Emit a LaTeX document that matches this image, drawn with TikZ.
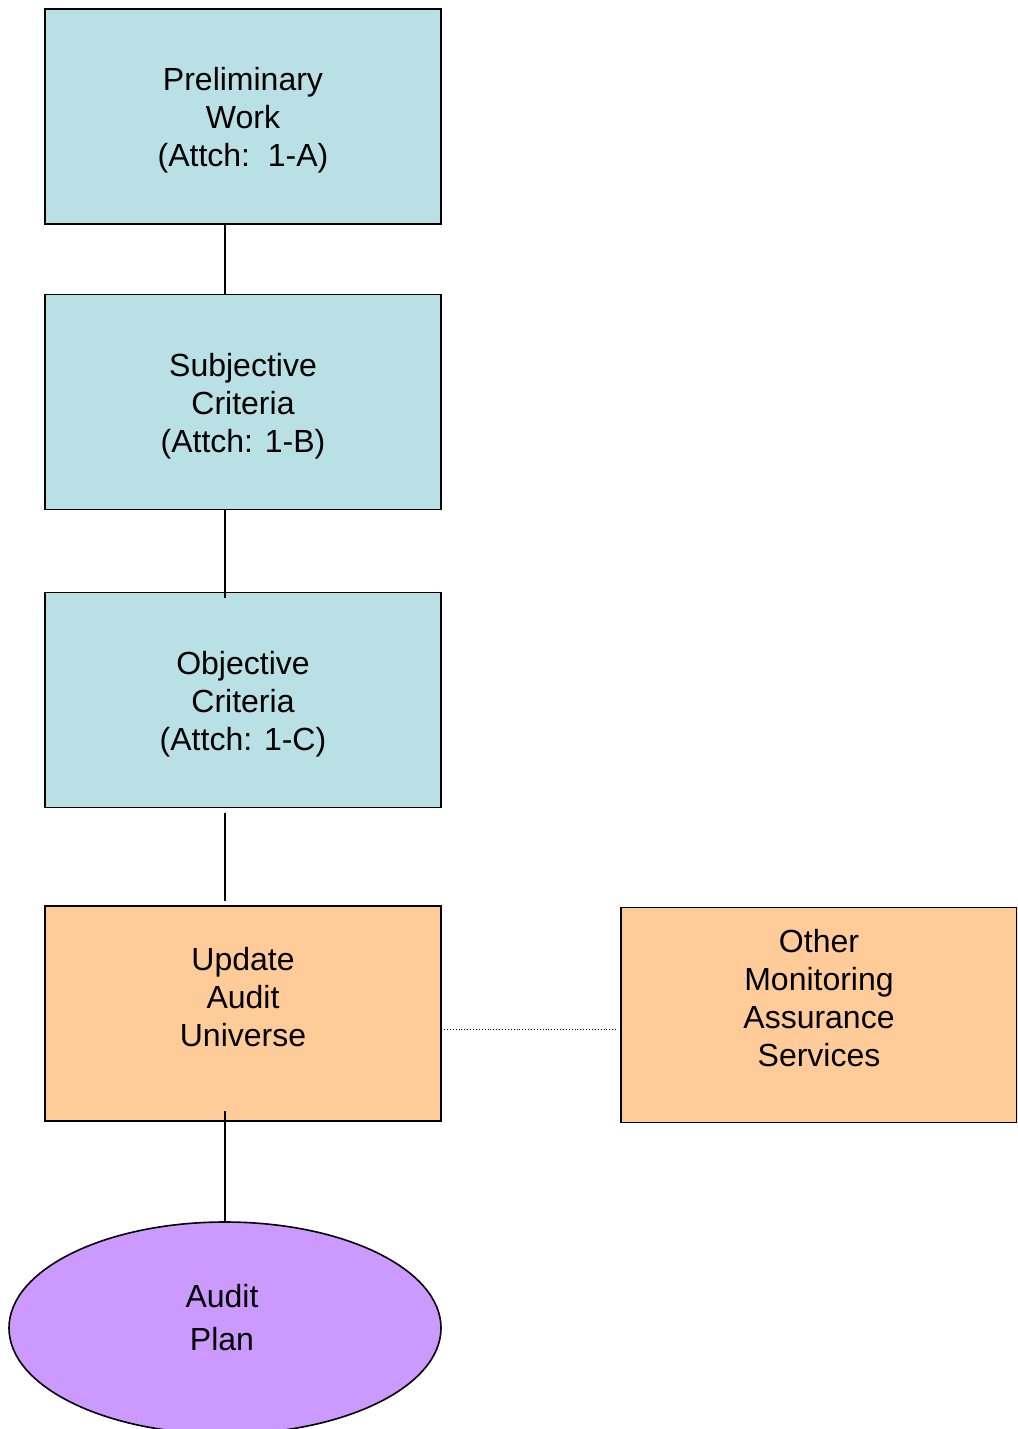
\documentclass[tikz,border=0pt]{standalone}
\usepackage{fontspec}
\setmainfont{Liberation Sans}
\usepackage{tikz}
\usetikzlibrary{shapes}

\begin{document}
\begin{tikzpicture}[x=1pt,y=-1pt,
  every node/.style={inner sep=0pt,outer sep=0pt,align=center,
    font=\fontsize{32}{38}\selectfont},
  stagebox/.style={rectangle,draw,line width=1.6pt,
    minimum width=396pt,minimum height=215pt},
  critbox/.style={stagebox,fill=critblue},
  unibox/.style={stagebox,fill=uniorange},
  link/.style={line width=1.6pt},
  dotlink/.style={line width=0.9pt,dash pattern=on 0.9pt off 2pt}]

  \definecolor{critblue}{RGB}{185,224,228}
  \definecolor{uniorange}{RGB}{255,204,153}
  \definecolor{planpurple}{RGB}{204,153,255}

  \useasboundingbox (0,0) rectangle (1017,1429);
  \clip (0,0) rectangle (1017,1429);

  % Criteria boxes
  \node[critbox] (prelim) at (243,116.5) {};
  \node (prelimtext) at (243,120) {Preliminary\\Work\\(Attch:~~1-A)};
  \node[critbox] (subj) at (243,402) {};
  \node (subjtext) at (243,406) {Subjective\\Criteria\\(Attch: 1-B)};
  \node[critbox] (obj) at (243,700) {};
  \node (objtext) at (243,704) {Objective\\Criteria\\(Attch: 1-C)};

  % Universe boxes
  \node[unibox] (univ) at (243,1013.5) {};
  \node (univtext) at (243,997) {Update\\Audit\\Universe};
  \node[unibox] (other) at (819,1015) {};
  \node (othertext) at (819,998) {Other\\Monitoring\\Assurance\\Services};

  % Plan
  \node[ellipse,draw,line width=1.6pt,fill=planpurple,
    minimum width=432pt,minimum height=212pt] (plan) at (225,1328) {};
  \node[font=\fontsize{32}{43}\selectfont] (plantext) at (222,1318) {Audit\\Plan};

  % Connectors
  \coordinate (spine) at (225,0);
  \coordinate (dotrow) at (0,1029);
  \draw[link] (prelim.south -| spine) -- (subj.north -| spine);
  \draw[link,shorten >=-5pt] (subj.south -| spine) -- (obj.north -| spine);
  \draw[link,shorten <=5pt,shorten >=5pt] (obj.south -| spine) -- (univ.north -| spine);
  \draw[link,shorten <=-10pt] (univ.south -| spine) -- (plan.north);
  \draw[dotlink,shorten <=3pt,shorten >=3pt] (univ.east |- dotrow) -- (other.west |- dotrow);
\end{tikzpicture}
\end{document}
